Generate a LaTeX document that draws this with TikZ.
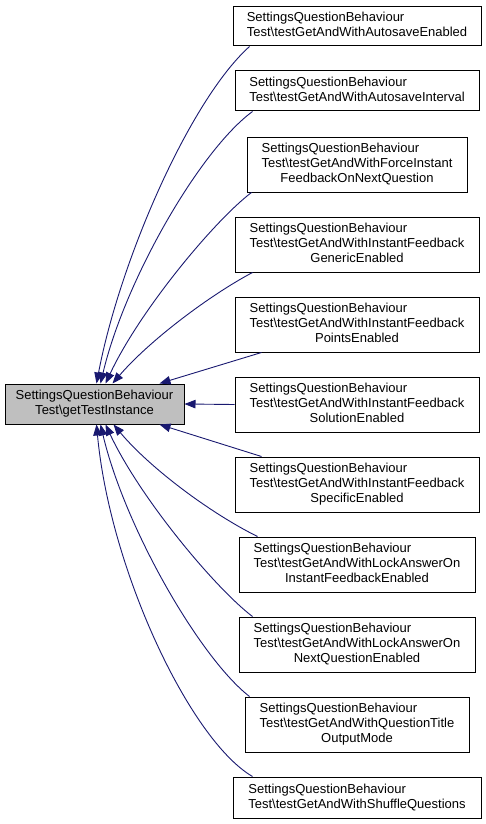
\documentclass[tikz,border=0pt]{standalone}
\usepackage{fontspec}
\setmainfont{Liberation Sans}
\usetikzlibrary{arrows.meta}
\definecolor{midnight}{HTML}{191970}
\definecolor{greyfill}{HTML}{BFBFBF}
\newcommand{\twol}[2]{\begin{tabular}{@{}l@{}}#1\\#2\end{tabular}}
\newcommand{\threel}[3]{\begin{tabular}{@{}l@{}}#1\\#2\\\multicolumn{1}{@{}c@{}}{#3}\end{tabular}}
\begin{document}
\begin{tikzpicture}[x=1pt,y=-1pt,
  box/.style={draw=black, line width=1pt, fill=white, inner sep=0pt, font=\fontsize{13}{15}\selectfont},
  edge/.style={draw=midnight, line width=0.9pt, -{Triangle[length=11pt,width=8.5pt]}, fill=none},
  ]
\useasboundingbox (0,0) rectangle (485,824);
\node[box, fill=greyfill, minimum width=179pt, minimum height=40pt] (L) at (94.5,404)
  {\begin{tabular}{@{}c@{}}SettingsQuestionBehaviour\\Test\textbackslash getTestInstance\end{tabular}};
\node[box, minimum width=248pt, minimum height=39pt] (b1) at (357,26.5)
  {\twol{SettingsQuestionBehaviour}{Test\textbackslash testGetAndWithAutosaveEnabled}};
\node[box, minimum width=244pt, minimum height=40pt] (b2) at (357,91)
  {\twol{SettingsQuestionBehaviour}{Test\textbackslash testGetAndWithAutosaveInterval}};
\node[box, minimum width=220pt, minimum height=55pt] (b3) at (357,164.5)
  {\threel{SettingsQuestionBehaviour}{Test\textbackslash testGetAndWithForceInstant}{FeedbackOnNextQuestion}};
\node[box, minimum width=244pt, minimum height=55pt] (b4) at (357,244.5)
  {\threel{SettingsQuestionBehaviour}{Test\textbackslash testGetAndWithInstantFeedback}{GenericEnabled}};
\node[box, minimum width=244pt, minimum height=55pt] (b5) at (357,324.5)
  {\threel{SettingsQuestionBehaviour}{Test\textbackslash testGetAndWithInstantFeedback}{PointsEnabled}};
\node[box, minimum width=244pt, minimum height=55pt] (b6) at (357,404.5)
  {\threel{SettingsQuestionBehaviour}{Test\textbackslash testGetAndWithInstantFeedback}{SolutionEnabled}};
\node[box, minimum width=244pt, minimum height=55pt] (b7) at (357,484.5)
  {\threel{SettingsQuestionBehaviour}{Test\textbackslash testGetAndWithInstantFeedback}{SpecificEnabled}};
\node[box, minimum width=236pt, minimum height=55pt] (b8) at (357,564.5)
  {\threel{SettingsQuestionBehaviour}{Test\textbackslash testGetAndWithLockAnswerOn}{InstantFeedbackEnabled}};
\node[box, minimum width=236pt, minimum height=55pt] (b9) at (357,644.5)
  {\threel{SettingsQuestionBehaviour}{Test\textbackslash testGetAndWithLockAnswerOn}{NextQuestionEnabled}};
\node[box, minimum width=224pt, minimum height=55pt] (b10) at (357,724.5)
  {\threel{SettingsQuestionBehaviour}{Test\textbackslash testGetAndWithQuestionTitle}{OutputMode}};
\node[box, minimum width=248pt, minimum height=41pt] (b11) at (357,797.5)
  {\twol{SettingsQuestionBehaviour}{Test\textbackslash testGetAndWithShuffleQuestions}};
% edges
\draw[edge] ([xshift=17pt]b1.south west) .. controls (190,100) and (120,260) .. ([xshift=92pt]L.north west);
\draw[edge] ([xshift=18pt]b2.south west) .. controls (200,150) and (125,280) .. ([xshift=96pt]L.north west);
\draw[edge] ([xshift=5pt]b3.south west) .. controls (215,220) and (140,310) .. ([xshift=101pt]L.north west);
\draw[edge] ([xshift=18pt]b4.south west) .. controls (210,295) and (150,340) .. ([xshift=108pt]L.north west);
\draw[edge] ([xshift=27pt]b5.south west) -- ([xshift=155pt]L.north west);
\draw[edge] (b6.west) -- (L.east);
\draw[edge] ([xshift=27pt]b7.north west) -- ([xshift=155pt]L.south west);
\draw[edge] ([xshift=19pt]b8.north west) .. controls (210,513) and (150,468) .. ([xshift=109pt]L.south west);
\draw[edge] ([xshift=14pt]b9.north west) .. controls (215,588) and (140,498) .. ([xshift=101pt]L.south west);
\draw[edge] ([xshift=5pt]b10.north west) .. controls (200,658) and (125,528) .. ([xshift=96pt]L.south west);
\draw[edge] ([xshift=20pt]b11.north west) .. controls (190,740) and (110,570) .. ([xshift=92pt]L.south west);
\end{tikzpicture}
\end{document}
